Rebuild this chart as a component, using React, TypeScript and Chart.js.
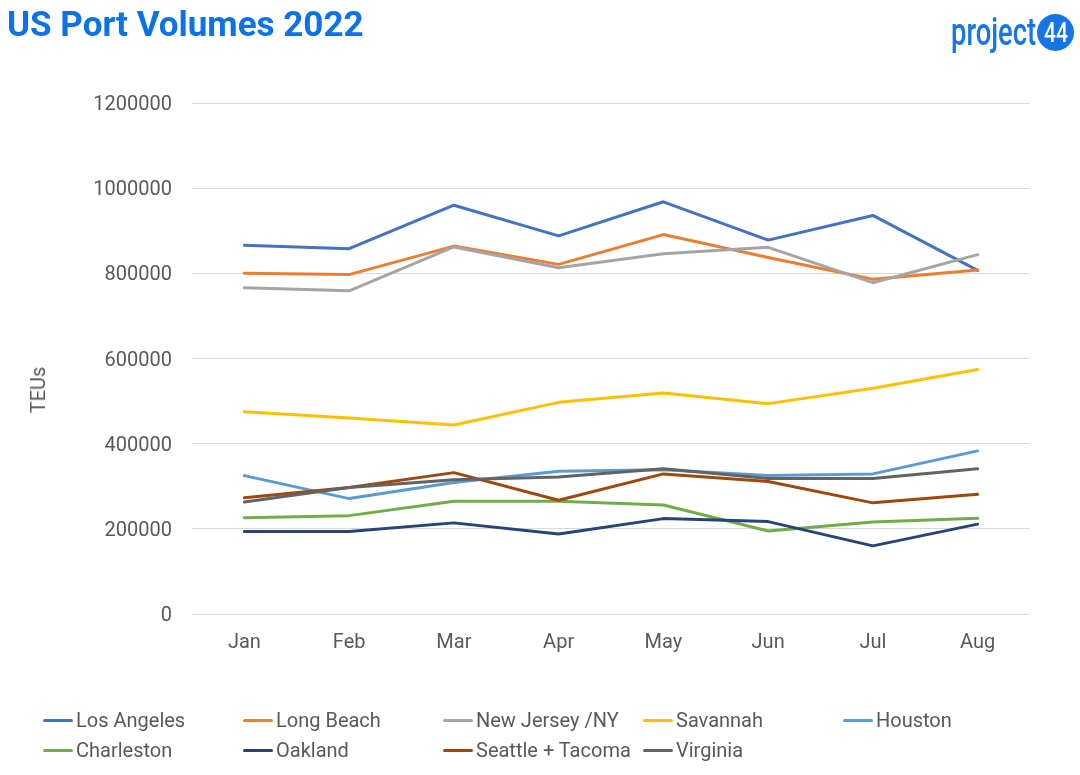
import React, { useEffect, useRef } from "react";
import { Chart, registerables } from "chart.js";

Chart.register(...registerables);

const months = ["Jan", "Feb", "Mar", "Apr", "May", "Jun", "Jul", "Aug"];

const seriesNames = [
  "Los Angeles",
  "Long Beach",
  "New Jersey /NY",
  "Savannah",
  "Houston",
  "Charleston",
  "Oakland",
  "Seattle + Tacoma",
  "Virginia",
];

const seriesColors = [
  "#4472C4",
  "#ED7D31",
  "#A5A5A5",
  "#FFC000",
  "#5B9BD5",
  "#70AD47",
  "#264478",
  "#9E480E",
  "#636363",
];

const losAngeles = [866000, 858000, 960000, 888000, 968000, 878000, 936000, 807000];
const longBeach = [800000, 797000, 864000, 821000, 891000, 837000, 786000, 808000];
const newJerseyNY = [766000, 759000, 862000, 813000, 846000, 861000, 778000, 844000];
const savannah = [475000, 460000, 444000, 497000, 519000, 494000, 530000, 574000];
const houston = [325000, 271000, 309000, 335000, 339000, 325000, 329000, 383000];
const charleston = [226000, 231000, 265000, 265000, 256000, 195000, 216000, 225000];
const oakland = [194000, 194000, 214000, 188000, 224000, 217000, 160000, 211000];
const seattleTacoma = [273000, 297000, 332000, 267000, 329000, 311000, 261000, 281000];
const virginia = [263000, 297000, 315000, 322000, 341000, 318000, 318000, 341000];

const seriesValues = [
  losAngeles,
  longBeach,
  newJerseyNY,
  savannah,
  houston,
  charleston,
  oakland,
  seattleTacoma,
  virginia,
];

const yMin = 0;
const yMax = 1200000;
const yStep = 200000;
const titleText = "US Port Volumes 2022";
const yAxisTitle = "TEUs";

const FONT = "Roboto, 'Noto Sans', sans-serif";
const TEXT_GRAY = "#595959";

export default function App() {
  const canvasRef = useRef<HTMLCanvasElement | null>(null);

  useEffect(() => {
    const canvas = canvasRef.current;
    if (!canvas) return;
    const n = seriesNames.length;
    const chart = new Chart(canvas, {
      type: "line",
      data: {
        labels: months,
        datasets: seriesNames.map((name, i) => ({
          label: name,
          data: seriesValues[i],
          borderColor: seriesColors[i],
          backgroundColor: seriesColors[i],
          borderWidth: 3,
          pointRadius: 0,
          pointHoverRadius: 0,
          tension: 0,
          fill: false,
          borderCapStyle: "round" as const,
          borderJoinStyle: "round" as const,
          order: n - i,
        })),
      },
      options: {
        responsive: false,
        animation: false,
        devicePixelRatio: 1,
        layout: { padding: { top: 103, right: 50, left: 0, bottom: 0 } },
        plugins: {
          legend: { display: false },
          tooltip: { enabled: false },
          title: { display: false },
        },
        scales: {
          x: {
            type: "category",
            offset: true,
            grid: { display: false, drawTicks: false },
            border: { display: false },
            ticks: {
              color: TEXT_GRAY,
              font: { family: FONT, size: 20 },
              padding: 17,
              maxRotation: 0,
              autoSkip: false,
            },
            afterFit: (scale: any) => {
              scale.height = 161;
            },
          },
          y: {
            min: yMin,
            max: yMax,
            grid: { color: "#D9D9D9", lineWidth: 1, drawTicks: false },
            border: { display: false },
            ticks: {
              stepSize: yStep,
              color: TEXT_GRAY,
              font: { family: FONT, size: 20 },
              padding: 20,
              labelOffset: 2,
              callback: (v: any) => String(v),
            },
            afterFit: (scale: any) => {
              scale.width = 192;
            },
          },
        },
      },
    });
    return () => chart.destroy();
  }, []);

  const legendRows = [seriesNames.slice(0, 5), seriesNames.slice(5)];

  return (
    <div
      style={{
        position: "absolute",
        left: 0,
        top: 0,
        width: 1080,
        height: 775,
        background: "#fff",
        fontFamily: FONT,
        overflow: "hidden",
      }}
    >
      <canvas
        ref={canvasRef}
        width={1080}
        height={775}
        style={{ position: "absolute", left: 0, top: 0, width: 1080, height: 775 }}
      />
      <div
        style={{
          position: "absolute",
          left: 7,
          top: 3,
          fontSize: 35,
          fontWeight: 700,
          color: "#0B72E7",
          lineHeight: "44px",
          whiteSpace: "nowrap",
        }}
      >
        {titleText}
      </div>
      <div
        style={{
          position: "absolute",
          left: 951,
          top: 12,
          height: 40,
          display: "flex",
          alignItems: "center",
          whiteSpace: "nowrap",
        }}
      >
        <span
          style={{
            display: "inline-block",
            fontSize: 38,
            fontWeight: 500,
            color: "#1474E8",
            transform: "scaleX(0.72)",
            transformOrigin: "left center",
            width: 86,
            lineHeight: "40px",
          }}
        >
          project
        </span>
        <span
          style={{
            display: "inline-flex",
            alignItems: "center",
            justifyContent: "center",
            width: 37,
            height: 37,
            borderRadius: 18.5,
            background: "#1474E8",
            color: "#fff",
            fontSize: 28,
            fontWeight: 500,
          }}
        >
          <span style={{ display: "inline-block", transform: "scaleX(0.75)" }}>44</span>
        </span>
      </div>
      <div
        style={{
          position: "absolute",
          left: 38,
          top: 390,
          transform: "translate(-50%, -50%) rotate(-90deg)",
          fontSize: 20,
          color: TEXT_GRAY,
          whiteSpace: "nowrap",
          lineHeight: "24px",
        }}
      >
        {yAxisTitle}
      </div>
      {legendRows.map((row, r) => (
        <div
          key={r}
          style={{
            position: "absolute",
            left: 43,
            top: 708 + r * 30,
            height: 24,
            display: "flex",
          }}
        >
          {row.map((name) => {
            const idx = seriesNames.indexOf(name);
            return (
              <div
                key={name}
                style={{ width: 200, display: "flex", alignItems: "center", height: 24 }}
              >
                <span
                  style={{
                    display: "inline-block",
                    width: 30,
                    height: 3,
                    borderRadius: 1.5,
                    background: seriesColors[idx],
                    marginRight: 3,
                  }}
                />
                <span style={{ fontSize: 20, color: TEXT_GRAY, whiteSpace: "nowrap", lineHeight: "24px" }}>
                  {name}
                </span>
              </div>
            );
          })}
        </div>
      ))}
    </div>
  );
}
